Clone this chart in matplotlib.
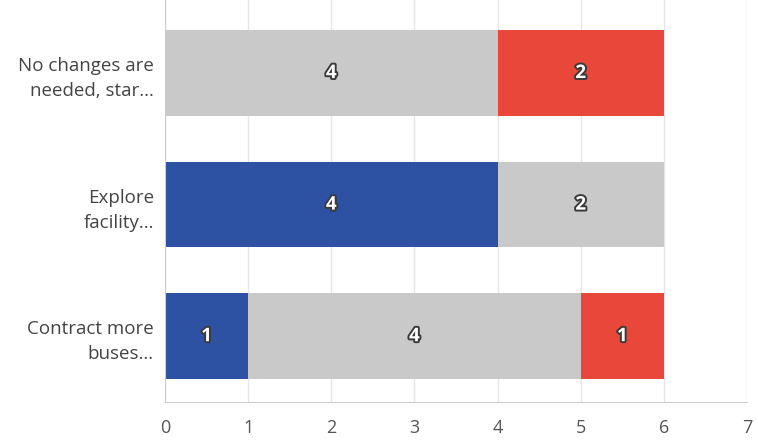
import matplotlib

matplotlib.use("Agg")
import matplotlib.pyplot as plt
import matplotlib.patheffects as pe
import numpy as np

categories = ["No changes are\nneeded, star...", "Explore\nfacility...", "Contract more\nbuses..."]
blue_vals = [0, 4, 1]
grey_vals = [4, 2, 4]
red_vals = [2, 0, 1]
x_ticks = [0, 1, 2, 3, 4, 5, 6, 7]

BLUE = "#2d51a3"
GREY = "#c9c9c9"
RED = "#e8473a"

plt.rcParams["font.family"] = ["Open Sans", "DejaVu Sans"]

fig = plt.figure(figsize=(7.58, 4.40), dpi=100)
ax = fig.add_axes([0.2177, 0.0864, 0.7678, 0.9136])

y = np.arange(len(categories))[::-1]
left = np.zeros(len(categories))
for vals, color in [(blue_vals, BLUE), (grey_vals, GREY), (red_vals, RED)]:
    vals = np.array(vals, dtype=float)
    ax.barh(y, vals, left=left, height=0.65, color=color, zorder=2)
    for yi, l, v in zip(y, left, vals):
        if v > 0:
            ax.text(l + v / 2, yi, f"{int(v)}", ha="center", va="center",
                    fontsize=13.5, fontweight="bold", color="white", zorder=3,
                    path_effects=[pe.withStroke(linewidth=2.8, foreground="#3a3a3a")])
    left += vals

ax.set_xlim(0, 7)
ax.set_ylim(-0.5, 2.555)
ax.set_xticks(x_ticks)
ax.set_xticklabels([str(t) for t in x_ticks], fontsize=13, color="#555555")
ax.set_yticks(y)
ax.set_yticklabels(categories, fontsize=13.5, color="#444444", ha="right", linespacing=1.5)
ax.tick_params(axis="both", length=0)
ax.tick_params(axis="x", pad=12)
ax.tick_params(axis="y", pad=8)

ax.grid(axis="x", color="#e6e6e6", lw=1, zorder=0)
for s in ["top", "right"]:
    ax.spines[s].set_visible(False)
ax.spines["left"].set_color("#cccccc")
ax.spines["bottom"].set_color("#cccccc")

fig.savefig("out.png", dpi=100, facecolor="white")
